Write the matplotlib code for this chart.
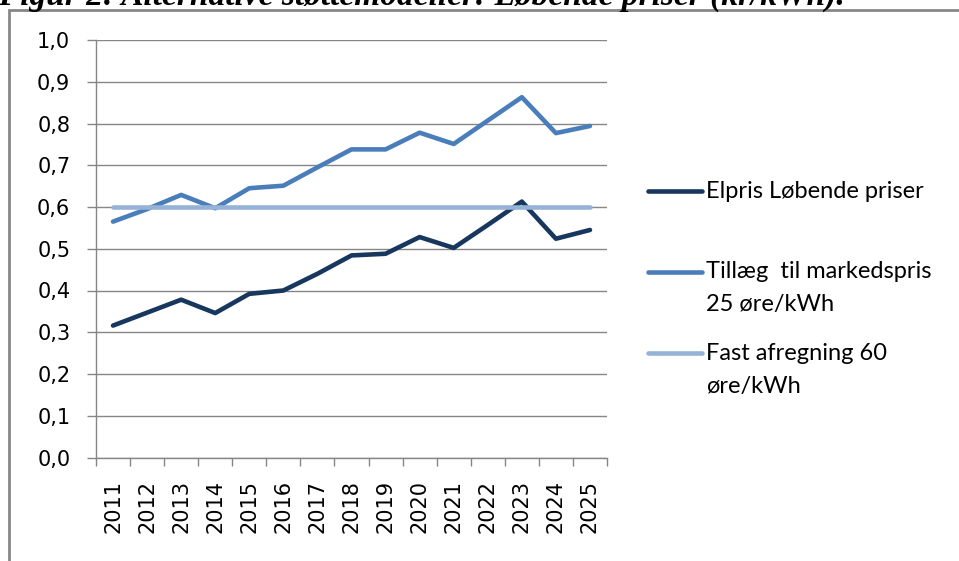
import matplotlib
matplotlib.use("Agg")
import matplotlib.pyplot as plt
from matplotlib.lines import Line2D
from matplotlib.patches import Rectangle
import numpy as np

# data (kr/kWh)
years = [2011, 2012, 2013, 2014, 2015, 2016, 2017, 2018,
         2019, 2020, 2021, 2022, 2023, 2024, 2025]
elpris = [0.316, 0.347, 0.378, 0.346, 0.392, 0.400, 0.440, 0.484,
          0.488, 0.528, 0.502, 0.557, 0.613, 0.524, 0.545]
tillaeg = [0.565, 0.595, 0.629, 0.597, 0.645, 0.651, 0.695, 0.738,
           0.738, 0.778, 0.751, 0.807, 0.863, 0.777, 0.794]
fast = [0.60] * 15

labels = [["Elpris Løbende priser"],
          ["Tillæg  til markedspris", "25 øre/kWh"],
          ["Fast afregning 60", "øre/kWh"]]
colors = ["#17375E", "#4A7EBB", "#95B3D7"]

W, H = 959, 561
fig = plt.figure(figsize=(W / 100, H / 100), dpi=100)

def fx(px):
    return px / W

def fy(py):
    return 1 - py / H

# caption, cut off at the top like in the reference
fig.text(fx(-2), fy(5), "Figur 2: Alternative støttemodeller: Løbende priser (kr/kWh).",
         family="Liberation Serif", style="italic", weight="bold",
         fontsize=24, va="baseline", ha="left")

# chart border
fig.add_artist(Rectangle((fx(9), fy(H + 20)), fx(W + 20), fy(10) - fy(H + 20),
                         transform=fig.transFigure, fill=False,
                         edgecolor="#878787", lw=2))

ax = fig.add_axes([fx(96), fy(457.5), fx(607) - fx(96), fy(40) - fy(457.5)])
x = np.arange(len(years))

ax.plot(x, elpris, color=colors[0], lw=3.3, solid_capstyle="round", zorder=3)
ax.plot(x, tillaeg, color=colors[1], lw=3.3, solid_capstyle="round", zorder=3)
ax.plot(x, fast, color=colors[2], lw=3.3, solid_capstyle="round", zorder=4)

ax.set_xlim(-0.5, len(years) - 0.5)
ax.set_ylim(0, 1.0)
yt = np.arange(0, 1.01, 0.1)
ax.set_yticks(yt)
ax.set_yticklabels([f"{v:.1f}".replace(".", ",") for v in yt])
ax.grid(axis="y", color="#868686", lw=1)
ax.set_axisbelow(True)

ax.set_xticks(x)
ax.set_xticklabels([str(y) for y in years], rotation=90)
ax.set_xticks(np.arange(-0.5, len(years)), minor=True)
ax.tick_params(axis="x", which="major", length=0, pad=16, labelsize=15)
ax.tick_params(axis="x", which="minor", length=6, color="#868686", width=1)
ax.tick_params(axis="y", length=6.5, color="#868686", width=1, pad=12, labelsize=15)

for s in ["top", "right"]:
    ax.spines[s].set_visible(False)
for s in ["left", "bottom"]:
    ax.spines[s].set_color("#868686")
    ax.spines[s].set_linewidth(1)

# legend drawn by hand so the key line sits on the first text row
rows = [191, 272, 353]
step = 33
for lines, col, ry in zip(labels, colors, rows):
    fig.add_artist(Line2D([fx(648), fx(702)], [fy(ry), fy(ry)], color=col, lw=3.3,
                          solid_capstyle="round", transform=fig.transFigure))
    for i, t in enumerate(lines):
        fig.text(fx(706), fy(ry + i * step), t, family="Lato", fontsize=17,
                 va="center", ha="left")

fig.savefig("out.png", dpi=100)
